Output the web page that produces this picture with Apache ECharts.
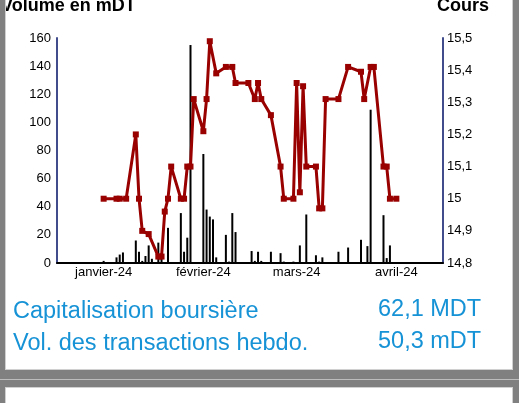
<!DOCTYPE html>
<html>
<head>
<meta charset="utf-8">
<script src="https://cdn.jsdelivr.net/npm/echarts@6/dist/echarts.min.js"></script>
<style>
html, body { margin: 0; padding: 0; width: 519px; height: 403px; overflow: hidden; background: #808080; }
#panel { position: absolute; left: 5px; top: 0; width: 508px; height: 370px; background: #fff;
         border: 1px solid #d0d0d0; border-top: none; box-sizing: border-box; overflow: hidden; }
#chart { position: absolute; left: -6px; top: 0; width: 519px; height: 403px; }
#sep { position: absolute; left: 0; top: 379px; width: 519px; height: 1px; background: #bdbdbd; }
#panel2 { position: absolute; left: 5px; top: 387px; width: 508px; height: 30px; background: #fff;
          border: 1px solid #d0d0d0; box-sizing: border-box; }
</style>
</head>
<body>
<div id="panel"><div id="chart"></div></div>
<div id="sep"></div>
<div id="panel2"></div>
<script>
// axe des dates (un créneau par jour)
var axisStart = '2023-12-18';
var axisEnd = '2024-04-15';
var tickDates = ['2024-01-01', '2024-02-01', '2024-03-01', '2024-04-01'];
var tickLabels = ['janvier-24', 'février-24', 'mars-24', 'avril-24'];

// cours
var coursDates = ['2024-01-01','2024-01-05','2024-01-06','2024-01-08','2024-01-11','2024-01-12','2024-01-13',
    '2024-01-15','2024-01-18','2024-01-19','2024-01-20','2024-01-21','2024-01-22','2024-01-25','2024-01-26',
    '2024-01-27','2024-01-28','2024-01-29','2024-02-01','2024-02-02','2024-02-03','2024-02-05','2024-02-08',
    '2024-02-10','2024-02-11','2024-02-15','2024-02-17','2024-02-18','2024-02-19','2024-02-22','2024-02-25',
    '2024-02-26','2024-02-29','2024-03-01','2024-03-02','2024-03-03','2024-03-04','2024-03-07','2024-03-08',
    '2024-03-09','2024-03-10','2024-03-14','2024-03-17','2024-03-21','2024-03-22','2024-03-24','2024-03-25',
    '2024-03-28','2024-03-29','2024-03-30','2024-04-01'];
var coursValues = [15.0, 15.0, 15.0, 15.0, 15.2, 15.0, 14.9,
    14.89, 14.82, 14.82, 14.96, 15.0, 15.1, 15.0, 15.0,
    15.1, 15.1, 15.31, 15.21, 15.31, 15.49, 15.39, 15.41,
    15.41, 15.36, 15.36, 15.31, 15.36, 15.31, 15.26, 15.1,
    15.0, 15.0, 15.36, 15.02, 15.35, 15.1, 15.1, 14.97,
    14.97, 15.31, 15.31, 15.41, 15.395, 15.31, 15.41, 15.41,
    15.1, 15.1, 15.0, 15.0];

// volume en mDT
var volumeDates = ['2024-01-01','2024-01-05','2024-01-06','2024-01-07','2024-01-11','2024-01-12','2024-01-13',
    '2024-01-14','2024-01-15','2024-01-16','2024-01-18','2024-01-19','2024-01-21','2024-01-25','2024-01-26',
    '2024-01-27','2024-01-28','2024-02-01','2024-02-02','2024-02-03','2024-02-04','2024-02-05','2024-02-08',
    '2024-02-09','2024-02-10','2024-02-11','2024-02-16','2024-02-17','2024-02-18','2024-02-19','2024-02-22',
    '2024-02-25','2024-02-26','2024-02-29','2024-03-02','2024-03-04','2024-03-07','2024-03-08','2024-03-09',
    '2024-03-14','2024-03-17','2024-03-21','2024-03-23','2024-03-24','2024-03-28','2024-03-29','2024-03-30'];
var volumeValues = [1.5, 4, 6, 7.5, 16, 8, 1.5,
    5, 12.5, 3, 14.5, 7, 25, 35.5, 8,
    18, 155, 77.5, 38, 33, 31, 4, 20,
    1, 35.5, 22, 8.5, 1.5, 8, 1.5, 8,
    7, 1, 1, 12.5, 34.5, 5.5, 1, 4,
    8, 11, 16.5, 12, 109, 34, 3.5, 12.5];

var infoLabels = ['Capitalisation boursière', 'Vol. des transactions hebdo.'];
var infoValues = ['62,1 MDT', '50,3 mDT'];

function dayList(a, b) {
    var out = [];
    var d = new Date(a + 'T00:00:00Z');
    var end = new Date(b + 'T00:00:00Z');
    while (d <= end) {
        out.push(d.toISOString().slice(0, 10));
        d.setUTCDate(d.getUTCDate() + 1);
    }
    return out;
}
var days = dayList(axisStart, axisEnd);

function onDays(dates, values) {
    var m = {};
    dates.forEach(function (d, i) { m[d] = values[i]; });
    return days.map(function (d) { return (d in m) ? m[d] : null; });
}

var font = 'Arial, "Liberation Sans", sans-serif';
var axisBlue = '#404c8c';

var myChart = echarts.init(document.getElementById('chart'));
var option = {
    animation: false,
    grid: { left: 57, right: 76, top: 38, bottom: 140 },
    xAxis: {
        type: 'category',
        data: days,
        boundaryGap: true,
        axisLine: { lineStyle: { color: '#000', width: 2 } },
        axisTick: { show: false },
        splitLine: { show: false },
        axisLabel: {
            interval: function (idx, val) { return tickDates.indexOf(val) >= 0; },
            formatter: function (val) {
                var k = tickDates.indexOf(val);
                return k >= 0 ? tickLabels[k] : '';
            },
            color: '#000', fontSize: 13, fontFamily: font, margin: 3
        }
    },
    yAxis: [
        {
            type: 'value', position: 'left', min: 0, max: 160, interval: 20,
            axisLine: { show: true, lineStyle: { color: axisBlue, width: 2 } },
            axisTick: { show: false },
            splitLine: { show: false },
            axisLabel: { color: '#000', fontSize: 13, fontFamily: font, margin: 6 }
        },
        {
            type: 'value', position: 'right', min: 14.8, max: 15.5, interval: 0.1,
            axisLine: { show: true, lineStyle: { color: axisBlue, width: 2 } },
            axisTick: { show: false },
            splitLine: { show: false },
            axisLabel: {
                color: '#000', fontSize: 13, fontFamily: font, margin: 4,
                formatter: function (v) { return String(Math.round(v * 10) / 10).replace('.', ','); }
            }
        }
    ],
    series: [
        {
            name: 'Volume', type: 'bar', yAxisIndex: 0,
            data: onDays(volumeDates, volumeValues),
            barWidth: 2,
            itemStyle: { color: '#000' },
            emphasis: { disabled: true }
        },
        {
            name: 'Cours', type: 'line', yAxisIndex: 1,
            data: onDays(coursDates, coursValues),
            connectNulls: true,
            showAllSymbol: true,
            symbol: 'rect', symbolSize: 6,
            lineStyle: { color: '#990000', width: 3 },
            itemStyle: { color: '#990000' },
            emphasis: { disabled: true },
            z: 5
        }
    ],
    graphic: [
        { type: 'text', x: 1, y: 6, style: { text: 'Volume en mDT', font: 'bold 18px ' + font, fill: '#000', verticalAlign: 'middle' } },
        { type: 'text', x: 437, y: 6, style: { text: 'Cours', font: 'bold 18px ' + font, fill: '#000', verticalAlign: 'middle' } },
        { type: 'text', x: 13, y: 311.5, style: { text: infoLabels[0], font: '23.5px ' + font, fill: '#1692d6', verticalAlign: 'middle' } },
        { type: 'text', x: 13, y: 343.5, style: { text: infoLabels[1], font: '23.5px ' + font, fill: '#1692d6', verticalAlign: 'middle' } },
        { type: 'text', x: 378, y: 309.5, style: { text: infoValues[0], font: '23.5px ' + font, fill: '#1692d6', verticalAlign: 'middle' } },
        { type: 'text', x: 378, y: 341.5, style: { text: infoValues[1], font: '23.5px ' + font, fill: '#1692d6', verticalAlign: 'middle' } }
    ]
};
myChart.setOption(option);
</script>
</body>
</html>
